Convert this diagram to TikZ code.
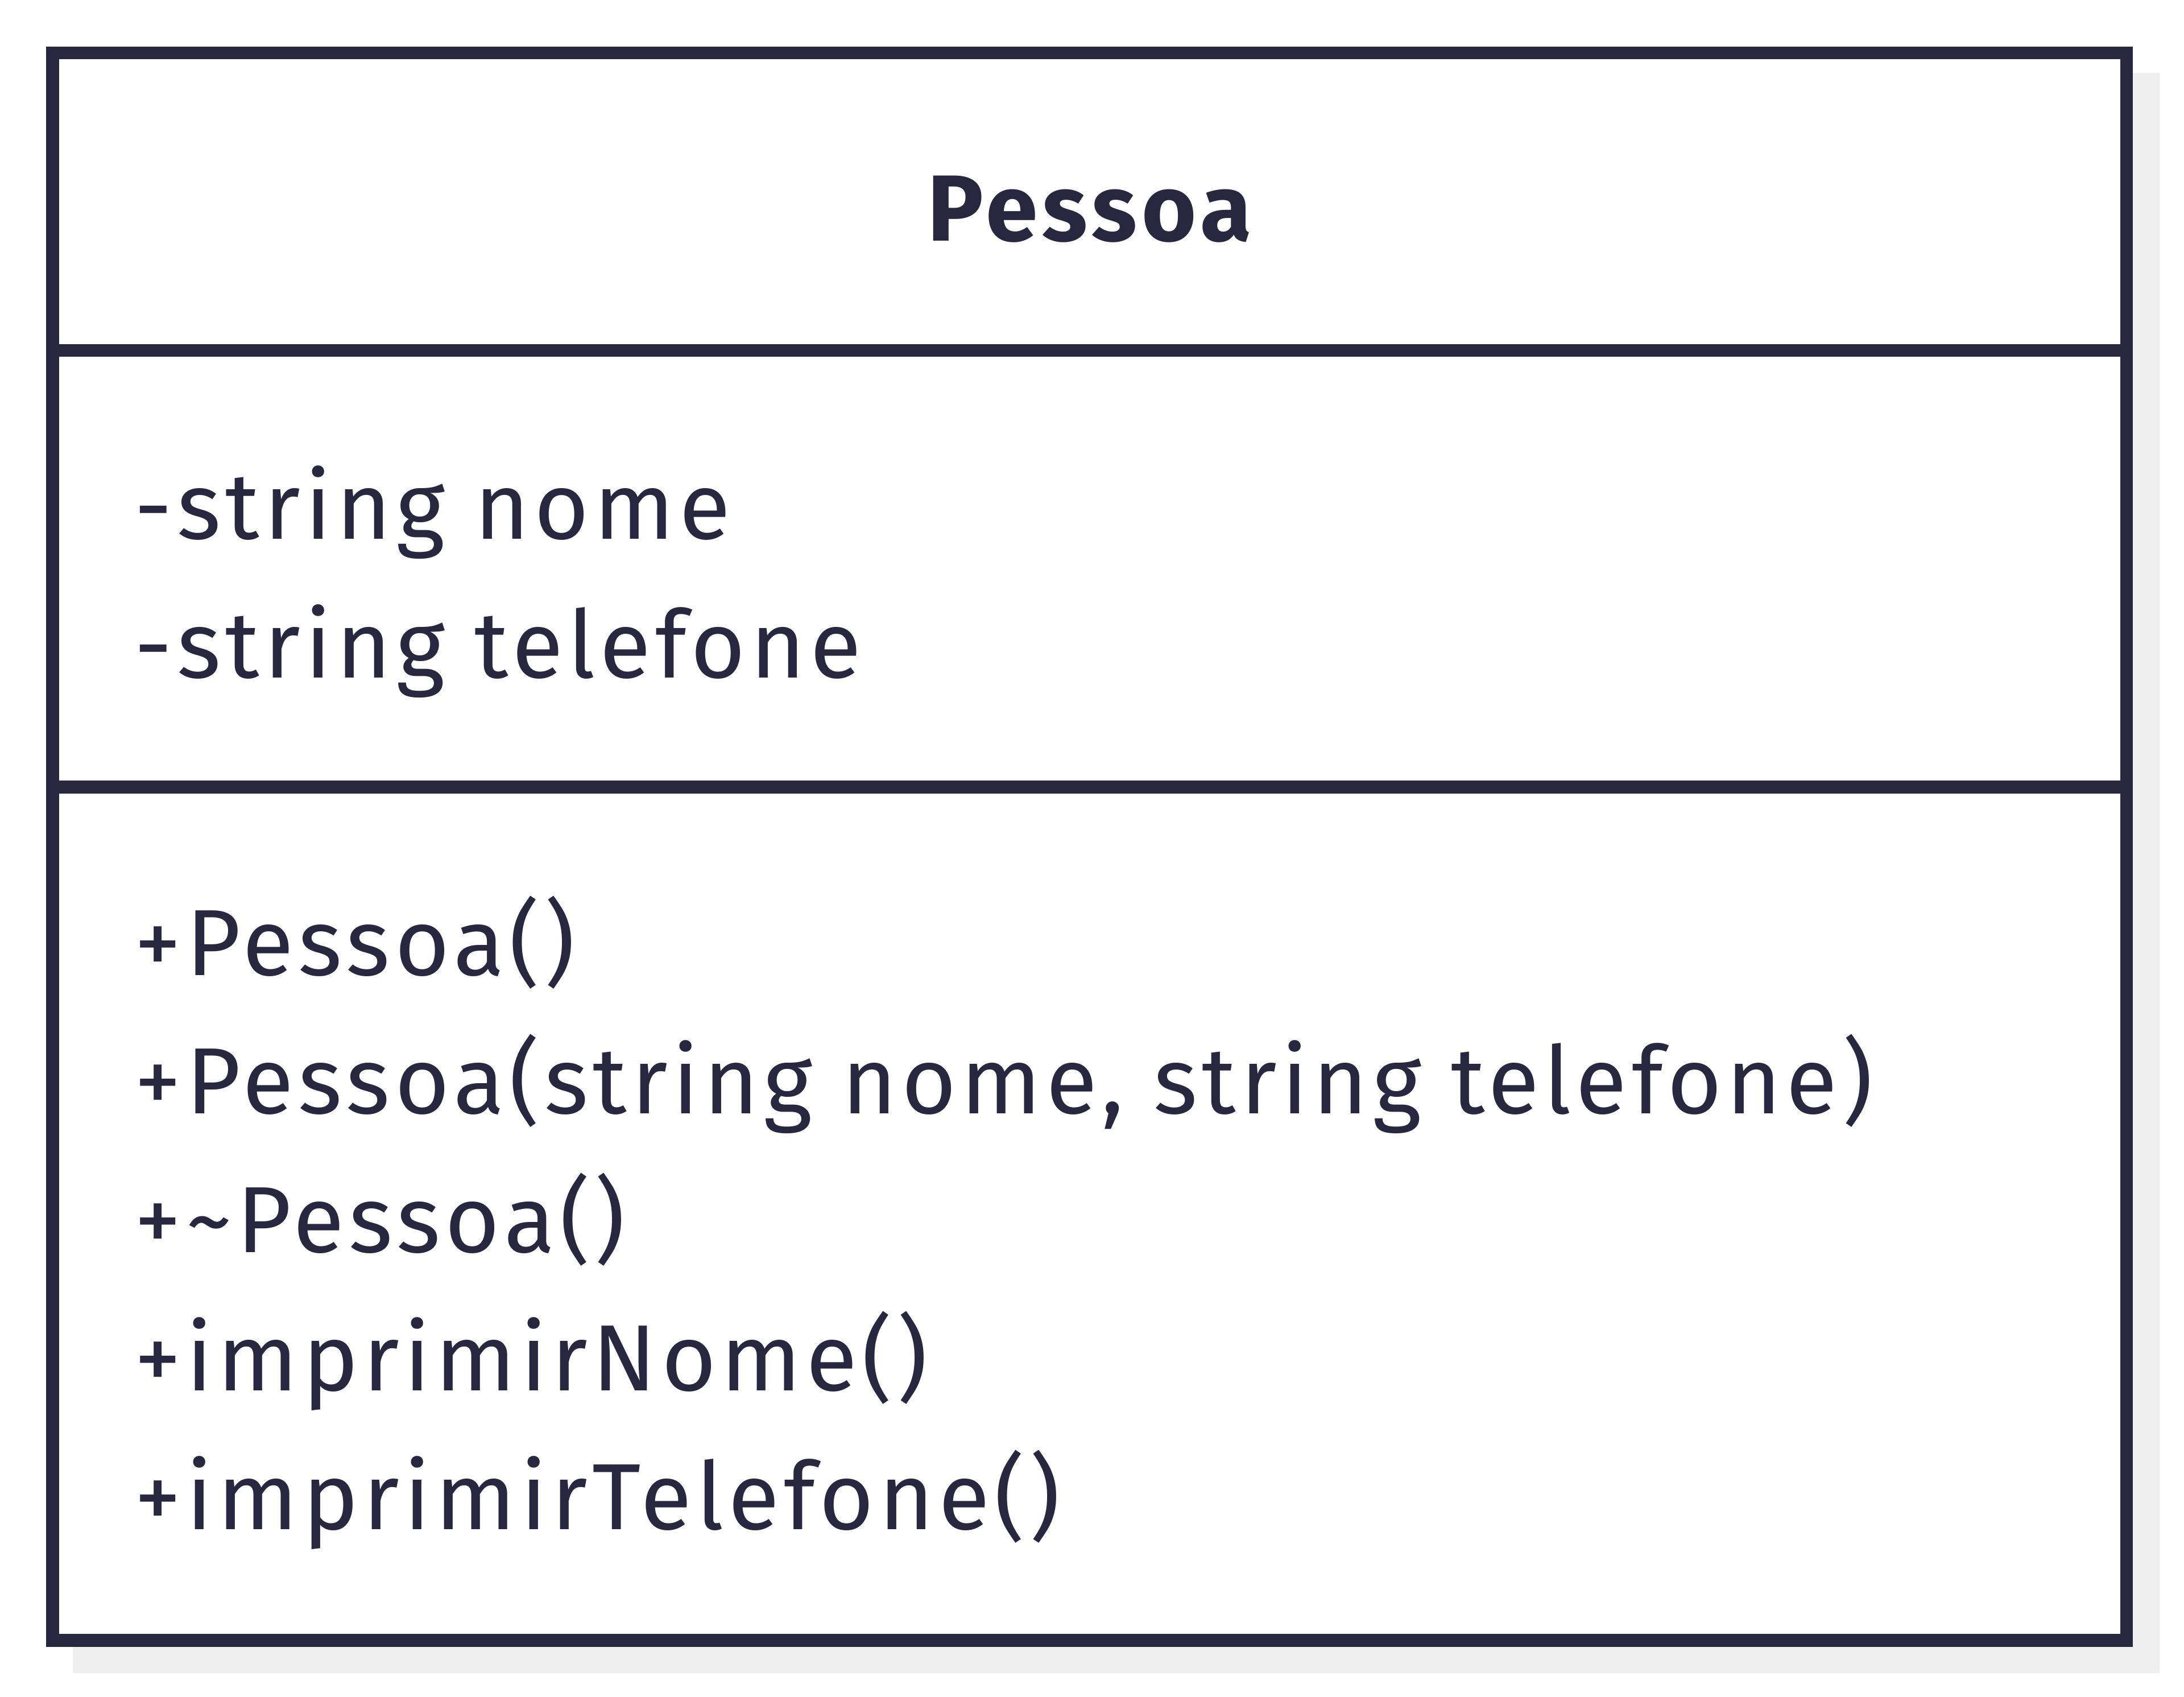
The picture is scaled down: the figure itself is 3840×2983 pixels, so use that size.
\documentclass[tikz,border=0pt]{standalone}
\usepackage{fontspec}
\setmainfont{Fira Sans}[LetterSpace=5]
\definecolor{umlink}{HTML}{29273F}
\definecolor{umlshadow}{HTML}{EFEFEF}
\tikzset{
  umltext/.style={anchor=base west, inner sep=0pt, text=umlink, font=\fontsize{47}{56}\selectfont},
  umlline/.style={draw=umlink, line width=6.5pt},
}
\begin{document}
\begin{tikzpicture}[x=0.1mm,y=-0.1mm]
  \useasboundingbox (0,0) rectangle (3840,2983);
  \coordinate (TL) at (92.5,93);
  \coordinate (BR) at (3739,2883.5);
  % shadow and frame
  \fill[umlshadow] (128,128) rectangle (3797,2941);
  \filldraw[fill=white, umlline] (TL) rectangle (BR);
  \draw[umlline] (92.5,616) -- (3739,616);
  \draw[umlline] (92.5,1383.5) -- (3739,1383.5);
  % class name
  \node[umltext, anchor=base, font=\fontsize{47}{56}\selectfont\bfseries] (classe) at (1916,424) {Pessoa};
  % attributes
  \node[umltext] (nome) at (236,948) {-string nome};
  \node[umltext] (telefone) at (236,1192) {-string telefone};
  % methods
  \node[umltext] (construtor) at (236,1714) {+Pessoa()};
  \node[umltext] (construtorparam) at (236,1957.5) {+Pessoa(string nome, string telefone)};
  \node[umltext] (destrutor) at (236,2201) {+\textasciitilde Pessoa()};
  \node[umltext] (imprnome) at (236,2444.5) {+imprimirNome()};
  \node[umltext] (imprtelefone) at (236,2688) {+imprimirTelefone()};
\end{tikzpicture}
\end{document}
